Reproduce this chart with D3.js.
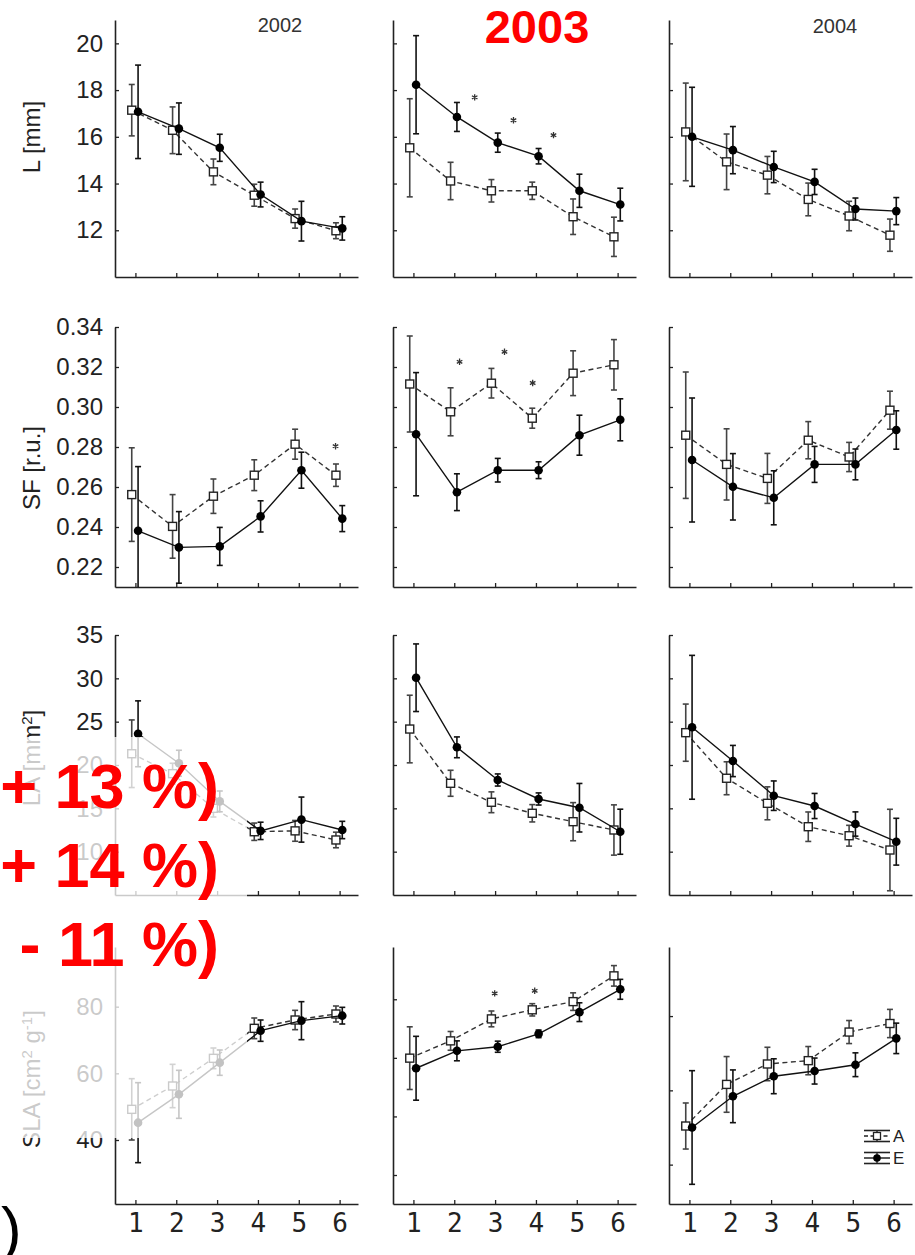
<!DOCTYPE html>
<html>
<head>
<meta charset="utf-8">
<script src="https://cdn.jsdelivr.net/npm/d3@7"></script>
<style>
  html, body { margin: 0; padding: 0; background: #fff; }
  svg { display: block; }
</style>
</head>
<body>
<script>
// ---------------- DATA ----------------
const days = [1, 2, 3, 4, 5, 6];
const xTickLabels = ["1", "2", "3", "4", "5", "6"];
const years = ["2002", "2003", "2004"];

// Row 1: L [mm]
const L_A     = [[17.14, 16.28, 14.5, 13.5, 12.5, 11.98], [15.53, 14.11, 13.69, 13.69, 12.58, 11.72], [16.21, 14.93, 14.36, 13.32, 12.61, 11.79]];
const L_A_err = [[1.1, 1.0, 0.55, 0.47, 0.41, 0.34], [2.1, 0.8, 0.48, 0.37, 0.76, 0.84], [2.09, 1.19, 0.8, 0.7, 0.63, 0.69]];
const L_E     = [[17.07, 16.35, 15.53, 13.53, 12.39, 12.08], [18.23, 16.85, 15.75, 15.17, 13.69, 13.1], [16.0, 15.43, 14.71, 14.07, 12.91, 12.82]];
const L_E_err = [[2.0, 1.1, 0.58, 0.53, 0.85, 0.5], [2.1, 0.62, 0.41, 0.33, 0.71, 0.7], [2.12, 1.01, 0.67, 0.54, 0.47, 0.58]];
const L_stars = [[], [[2.5, 17.69], [3.45, 16.71], [4.43, 16.07]], []];
const L_ticks = [12, 14, 16, 18, 20];

// Row 2: SF [r.u.]
const SF_A     = [[0.2562, 0.2403, 0.2554, 0.2659, 0.2814, 0.2659], [0.3115, 0.2976, 0.3119, 0.2944, 0.3169, 0.3211], [0.2859, 0.2713, 0.2643, 0.2834, 0.275, 0.2984]];
const SF_A_err = [[0.0234, 0.0159, 0.0086, 0.0077, 0.0075, 0.0056], [0.024, 0.012, 0.0074, 0.005, 0.0112, 0.0126], [0.0316, 0.0178, 0.0125, 0.0093, 0.0073, 0.0095]];
const SF_E     = [[0.2381, 0.2298, 0.2303, 0.2453, 0.2684, 0.2442], [0.2864, 0.2574, 0.2684, 0.2684, 0.2859, 0.2936], [0.2735, 0.2601, 0.2546, 0.2713, 0.2713, 0.2885]];
const SF_E_err = [[0.0321, 0.0179, 0.0095, 0.0078, 0.009, 0.0065], [0.0308, 0.0092, 0.0059, 0.0042, 0.01, 0.0105], [0.031, 0.0166, 0.0135, 0.009, 0.0077, 0.0096]];
const SF_stars = [[[5.9, 0.2804]], [[2.13, 0.3226], [3.23, 0.3276], [3.92, 0.312]], []];
const SF_ticks = [0.22, 0.24, 0.26, 0.28, 0.30, 0.32, 0.34];

// Row 3: LA [mm2]
const LA_A     = [[21.3, 19.0, 15.0, 12.3, 12.4, 11.35], [24.15, 17.89, 15.7, 14.43, 13.46, 12.5], [23.73, 18.47, 15.58, 12.88, 11.84, 10.19]];
const LA_A_err = [[3.9, 1.2, 1.0, 1.0, 1.2, 0.9], [3.9, 1.5, 1.2, 1.0, 2.2, 2.9], [3.3, 1.9, 1.9, 1.7, 1.2, 4.7]];
const LA_E     = [[23.6, 20.2, 15.8, 12.4, 13.7, 12.5], [30.07, 22.04, 18.27, 16.08, 15.07, 12.3], [24.35, 20.46, 16.46, 15.27, 13.19, 11.15]];
const LA_E_err = [[3.8, 1.5, 1.2, 1.0, 2.6, 1.0], [3.9, 1.2, 0.7, 0.7, 2.8, 2.6], [8.3, 1.8, 1.7, 1.45, 1.4, 2.7]];
const LA_stars = [[], [], []];
const LA_ticks = [10, 15, 20, 25, 30, 35];

// Row 4: SLA [cm2 g-1]
const SLA_A     = [[49.2, 56.2, 64.5, 73.5, 76.0, 77.8], [59.9, 65.8, 73.3, 76.4, 79.2, 88.0], [50.4, 61.6, 67.1, 68.0, 75.7, 78.0]];
const SLA_A_err = [[9.2, 6.5, 3.1, 3.1, 2.9, 2.4], [10.7, 3.2, 2.7, 2.1, 3.0, 3.5], [6.2, 7.5, 4.5, 3.8, 3.1, 3.8]];
const SLA_E     = [[45.2, 53.7, 63.2, 72.8, 75.8, 77.3], [56.45, 62.4, 63.8, 68.2, 75.6, 83.4], [50.0, 58.4, 63.8, 65.2, 66.9, 74.0]];
const SLA_E_err = [[12, 7.2, 3.8, 3.2, 5.7, 2.5], [10.9, 3.4, 1.9, 1.3, 3.2, 3.4], [15.3, 7.1, 4.7, 3.5, 3.2, 4.1]];
const SLA_stars = [[], [[2.99, 82], [3.97, 82.9]], []];
const SLA_ticks = [[40, 60, 80], [20, 40, 60, 80], [40, 60, 80]];

const legendLabels = ["A", "E"];
const overlayTexts = ["+ 13 %)", "+ 14 %)", "- 11 %)"];

// ---------------- LAYOUT ----------------
const W = 915, H = 1255;
const colX = [115, 393, 669];
const plotW = 243;
const rowTop = [20, 327, 635, 947];
const rowBot = [277, 587, 895, 1204];
const xDomain = [0.5, 6.45];

const rows = [
  { A: L_A, Ae: L_A_err, E: L_E, Ee: L_E_err, stars: L_stars, ticks: [L_ticks, L_ticks, L_ticks],
    dom: [[10, 21], [10, 21], [10, 21]], fmt: d3.format("d") },
  { A: SF_A, Ae: SF_A_err, E: SF_E, Ee: SF_E_err, stars: SF_stars, ticks: [SF_ticks, SF_ticks, SF_ticks],
    dom: [[0.21, 0.34], [0.21, 0.34], [0.21, 0.34]], fmt: d3.format(".2f") },
  { A: LA_A, Ae: LA_A_err, E: LA_E, Ee: LA_E_err, stars: LA_stars, ticks: [LA_ticks, LA_ticks, LA_ticks],
    dom: [[5, 35], [5, 35], [5, 35]], fmt: d3.format("d") },
  { A: SLA_A, Ae: SLA_A_err, E: SLA_E, Ee: SLA_E_err, stars: SLA_stars, ticks: SLA_ticks,
    dom: [[20.8, 97.9], [10.1, 97.85], [29.4, 98.6]], fmt: d3.format("d") }
];

const svg = d3.select("body").append("svg").attr("width", W).attr("height", H);
svg.append("rect").attr("width", W).attr("height", H).attr("fill", "#fff");
const defs = svg.append("defs");

const axisColor = "#222";
const FONT = "'Liberation Sans', Arial, sans-serif";

rows.forEach((row, r) => {
  for (let c = 0; c < 3; c++) {
    const x = d3.scaleLinear().domain(xDomain).range([colX[c], colX[c] + plotW]);
    const y = d3.scaleLinear().domain(row.dom[c]).range([rowBot[r], rowTop[r]]);
    const g = svg.append("g");

    // axes
    const ya = d3.axisLeft(y).tickValues(row.ticks[c]).tickSize(-4).tickSizeOuter(0)
      .tickPadding(12).tickFormat(c === 0 ? row.fmt : () => "");
    const yg = g.append("g").attr("transform", `translate(${colX[c]},0)`).call(ya);
    const xa = d3.axisBottom(x).tickValues(days).tickSize(-4).tickSizeOuter(0)
      .tickPadding(28).tickFormat((d, i) => r === 3 ? xTickLabels[i] : "");
    const xg = g.append("g").attr("transform", `translate(0,${rowBot[r]})`).call(xa);
    [yg, xg].forEach(a => {
      a.select(".domain").attr("stroke", axisColor).attr("stroke-width", 1.6);
      a.selectAll(".tick line").attr("stroke", axisColor).attr("stroke-width", 1.3);
    });
    yg.selectAll(".tick text").attr("font-family", FONT).attr("font-size", 24).attr("fill", "#222");
    xg.selectAll(".tick text").attr("font-family", "'DejaVu Sans Mono', monospace").attr("font-size", 26).attr("fill", "#222").attr("dy", "0");

    // clip
    const cid = `clip-${r}-${c}`;
    defs.append("clipPath").attr("id", cid).append("rect")
      .attr("x", colX[c]).attr("y", rowTop[r]).attr("width", plotW + 4).attr("height", rowBot[r] - rowTop[r]);
    const dg = g.append("g").attr("clip-path", `url(#${cid})`);

    const series = [
      { key: "A", vals: row.A[c], errs: row.Ae[c], off: -0.09, dash: "5,3.5", col: "#333", barCol: "#444" },
      { key: "E", vals: row.E[c], errs: row.Ee[c], off: 0.065, dash: null, col: "#111", barCol: "#111" }
    ];
    series.forEach(s => {
      const pts = days.map((d, i) => ({ d: d + s.off, v: s.vals[i], e: s.errs[i] }));
      const line = d3.line().x(p => x(p.d)).y(p => y(p.v));
      dg.append("path").attr("d", line(pts)).attr("fill", "none").attr("stroke", s.col)
        .attr("stroke-width", 1.4).attr("stroke-dasharray", s.dash);
      const eb = dg.append("g").attr("stroke", s.barCol).attr("stroke-width", 1.6);
      pts.forEach(p => {
        const cx = x(p.d), y1 = y(p.v + p.e), y2 = y(p.v - p.e);
        eb.append("line").attr("x1", cx).attr("x2", cx).attr("y1", y1).attr("y2", y2);
        eb.append("line").attr("x1", cx - 3).attr("x2", cx + 3).attr("y1", y1).attr("y2", y1);
        eb.append("line").attr("x1", cx - 3).attr("x2", cx + 3).attr("y1", y2).attr("y2", y2);
      });
      if (s.key === "A") {
        dg.selectAll(null).data(pts).enter().append("rect")
          .attr("x", p => x(p.d) - 4).attr("y", p => y(p.v) - 4).attr("width", 8).attr("height", 8)
          .attr("fill", "#fff").attr("stroke", "#222").attr("stroke-width", 1.4);
      } else {
        dg.selectAll(null).data(pts).enter().append("circle")
          .attr("cx", p => x(p.d)).attr("cy", p => y(p.v)).attr("r", 4.3).attr("fill", "#000");
      }
    });

    // significance stars
    row.stars[c].forEach(st => {
      g.append("path").attr("d", d3.symbol().type(d3.symbolAsterisk).size(28)())
        .attr("transform", `translate(${x(st[0])},${y(st[1])})`)
        .attr("fill", "none").attr("stroke", "#333").attr("stroke-width", 1.3);
    });

    // legend in last panel
    if (r === 3 && c === 2) {
      const lg = svg.append("g");
      const lx = 877, ly = [1136, 1158];
      legendLabels.forEach((lab, i) => {
        const yy = ly[i];
        lg.append("line").attr("x1", lx - 13).attr("x2", lx + 13).attr("y1", yy).attr("y2", yy)
          .attr("stroke", "#222").attr("stroke-width", 1.5).attr("stroke-dasharray", i === 0 ? "4,2.5" : null);
        [yy - 5.5, yy + 5.5].forEach(yc => lg.append("line").attr("x1", lx - 13).attr("x2", lx + 13)
          .attr("y1", yc).attr("y2", yc).attr("stroke", "#222").attr("stroke-width", 1.6));
        lg.append("line").attr("x1", lx).attr("x2", lx).attr("y1", yy - 5.5).attr("y2", yy + 5.5)
          .attr("stroke", "#222").attr("stroke-width", 1.4);
        if (i === 0) lg.append("rect").attr("x", lx - 3.5).attr("y", yy - 3.5).attr("width", 7).attr("height", 7)
          .attr("fill", "#fff").attr("stroke", "#222").attr("stroke-width", 1.3);
        else lg.append("circle").attr("cx", lx).attr("cy", yy).attr("r", 3.8).attr("fill", "#000");
        lg.append("text").attr("x", lx + 16).attr("y", yy + 6).text(lab)
          .attr("font-family", FONT).attr("font-size", 17).attr("fill", "#222");
      });
    }
  }
});

// column titles
svg.append("text").attr("x", 280).attr("y", 32).attr("text-anchor", "middle").text(years[0])
  .attr("font-family", FONT).attr("font-size", 20).attr("fill", "#333");
svg.append("text").attr("x", 537).attr("y", 43).attr("text-anchor", "middle").text(years[1])
  .attr("font-family", FONT).attr("font-size", 47).attr("font-weight", "bold").attr("fill", "#f00");
svg.append("text").attr("x", 835).attr("y", 33).attr("text-anchor", "middle").text(years[2])
  .attr("font-family", FONT).attr("font-size", 20).attr("fill", "#333");

// row labels (rotated)
function rowLabel(cy, parts) {
  const t = svg.append("text").attr("transform", `translate(40,${cy}) rotate(-90)`)
    .attr("text-anchor", "middle").attr("font-family", FONT).attr("font-size", 24).attr("fill", "#222");
  parts.forEach(p => {
    const ts = t.append("tspan").text(p.t);
    if (p.sup) ts.attr("font-size", 15).attr("baseline-shift", "super");
  });
}
rowLabel(137, [{ t: "L [mm]" }]);
rowLabel(468, [{ t: "SF [r.u.]" }]);
rowLabel(758, [{ t: "LA [mm" }, { t: "2", sup: true }, { t: "]" }]);
rowLabel(1079, [{ t: "SLA [cm" }, { t: "2", sup: true }, { t: " g" }, { t: "-1", sup: true }, { t: "]" }]);

// pasted white veil over lower-left region
svg.append("rect").attr("x", 0).attr("y", 737).attr("width", 247).attr("height", 401)
  .attr("fill", "#fff").attr("fill-opacity", 0.76);

// red overlay annotations
overlayTexts.forEach((t, i) => {
  svg.append("text").attr("x", 219).attr("y", 808 + i * 79).attr("text-anchor", "end").text(t)
    .attr("font-family", FONT).attr("font-size", 63).attr("font-weight", "bold").attr("fill", "#f00");
});
svg.append("text").attr("x", 1).attr("y", 1250).text(")")
  .attr("font-family", FONT).attr("font-size", 62).attr("fill", "#000");
</script>
</body>
</html>
